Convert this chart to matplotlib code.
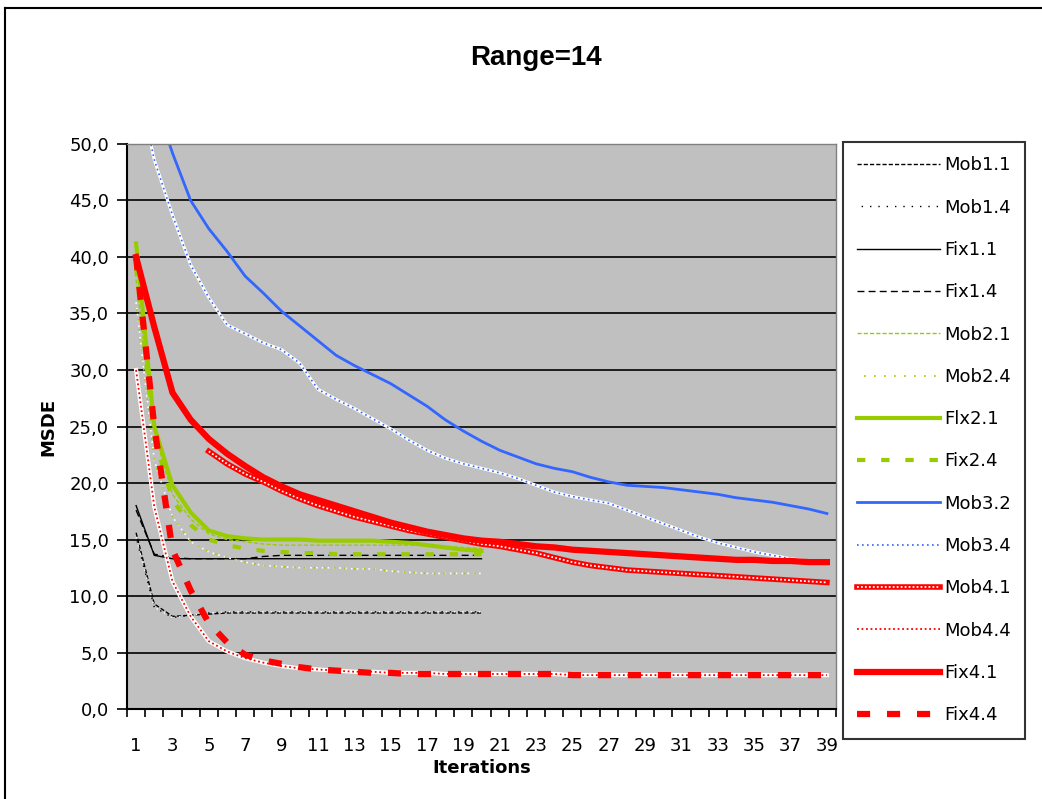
import matplotlib
matplotlib.use("Agg")
import matplotlib.pyplot as plt
from matplotlib.lines import Line2D
from matplotlib.legend_handler import HandlerTuple

plt.rcParams['font.family'] = ['DejaVu Sans']

GREEN = '#99CC00'
BLUE = '#3366FF'
RED = '#FF0000'

iters_short = list(range(1, 21))
iters_long = list(range(1, 40))
iters_mob41 = list(range(5, 40))

mob1_1 = [15.6, 9.3, 8.2, 8.3, 8.4, 8.5, 8.5, 8.5, 8.5, 8.5,
          8.5, 8.5, 8.5, 8.5, 8.5, 8.5, 8.5, 8.5, 8.5, 8.5]
mob1_4 = [15.2, 9.0, 8.1, 8.3, 8.5, 8.6, 8.6, 8.6, 8.6, 8.6,
          8.6, 8.6, 8.6, 8.6, 8.6, 8.6, 8.6, 8.6, 8.6, 8.6]
fix1_1 = [18.0, 13.6, 13.3, 13.3, 13.3, 13.3, 13.3, 13.3, 13.3, 13.3,
          13.3, 13.3, 13.3, 13.3, 13.3, 13.3, 13.3, 13.3, 13.3, 13.3]
fix1_4 = [17.6, 13.7, 13.4, 13.3, 13.3, 13.3, 13.3, 13.5, 13.6, 13.6,
          13.6, 13.6, 13.6, 13.6, 13.6, 13.6, 13.6, 13.6, 13.6, 13.6]
mob2_1 = [38.0, 24.5, 19.0, 16.8, 15.5, 15.0, 14.8, 14.6, 14.5, 14.5,
          14.5, 14.5, 14.5, 14.5, 14.5, 14.5, 14.5, 14.4, 14.3, 14.2]
mob2_4 = [36.0, 22.0, 17.0, 14.8, 13.9, 13.4, 13.0, 12.7, 12.6, 12.5,
          12.5, 12.5, 12.4, 12.4, 12.2, 12.1, 12.0, 12.0, 12.0, 12.0]
fix2_1 = [41.2, 25.0, 19.8, 17.4, 15.8, 15.3, 15.1, 15.0, 15.0, 15.0,
          14.9, 14.9, 14.9, 14.9, 14.8, 14.7, 14.5, 14.3, 14.1, 14.0]
fix2_4 = [39.0, 24.0, 18.5, 16.3, 15.0, 14.5, 14.2, 14.0, 13.9, 13.8,
          13.8, 13.7, 13.7, 13.7, 13.7, 13.7, 13.7, 13.7, 13.7, 13.7]
mob3_2 = [60.0, 54.0, 49.2, 45.0, 42.5, 40.5, 38.3, 36.8, 35.2, 33.9,
          32.6, 31.3, 30.4, 29.6, 28.8, 27.8, 26.8, 25.6, 24.6, 23.7,
          22.9, 22.3, 21.7, 21.3, 21.0, 20.5, 20.1, 19.8, 19.7, 19.6,
          19.4, 19.2, 19.0, 18.7, 18.5, 18.3, 18.0, 17.7, 17.3]
mob3_4 = [56.0, 48.6, 43.7, 39.3, 36.4, 34.0, 33.2, 32.4, 31.8, 30.6,
          28.3, 27.4, 26.6, 25.7, 24.8, 23.8, 22.9, 22.2, 21.7, 21.3,
          20.9, 20.4, 19.8, 19.2, 18.8, 18.5, 18.2, 17.6, 17.0, 16.4,
          15.8, 15.2, 14.7, 14.3, 13.9, 13.6, 13.3, 13.1, 12.9]
mob4_1 = [22.8, 21.7, 20.8, 20.1, 19.3, 18.6, 18.0, 17.5, 17.0, 16.6,
          16.2, 15.8, 15.5, 15.2, 14.9, 14.6, 14.4, 14.1, 13.8, 13.4,
          13.0, 12.7, 12.5, 12.3, 12.2, 12.1, 12.0, 11.9, 11.8, 11.7,
          11.6, 11.5, 11.4, 11.3, 11.2]
mob4_4 = [30.0, 17.9, 11.3, 8.2, 6.0, 5.1, 4.5, 4.1, 3.8, 3.6,
          3.5, 3.4, 3.3, 3.3, 3.2, 3.2, 3.2, 3.1, 3.1, 3.1,
          3.1, 3.1, 3.1, 3.1, 3.0, 3.0, 3.0, 3.0, 3.0, 3.0,
          3.0, 3.0, 3.0, 3.0, 3.0, 3.0, 3.0, 3.0, 3.0]
fix4_1 = [40.0, 33.8, 28.0, 25.6, 23.9, 22.6, 21.5, 20.5, 19.7, 19.0,
          18.5, 18.0, 17.5, 17.0, 16.5, 16.1, 15.7, 15.4, 15.1, 14.9,
          14.8, 14.6, 14.4, 14.3, 14.1, 14.0, 13.9, 13.8, 13.7, 13.6,
          13.5, 13.4, 13.3, 13.2, 13.2, 13.1, 13.1, 13.0, 13.0]
fix4_4 = [40.0, 25.0, 14.1, 10.5, 7.6, 5.9, 4.8, 4.3, 4.0, 3.7,
          3.5, 3.4, 3.3, 3.2, 3.2, 3.1, 3.1, 3.1, 3.1, 3.1,
          3.1, 3.1, 3.1, 3.1, 3.0, 3.0, 3.0, 3.0, 3.0, 3.0,
          3.0, 3.0, 3.0, 3.0, 3.0, 3.0, 3.0, 3.0, 3.0]

y_ticks = [0, 5, 10, 15, 20, 25, 30, 35, 40, 45, 50]
y_labels = ['0,0', '5,0', '10,0', '15,0', '20,0', '25,0', '30,0',
            '35,0', '40,0', '45,0', '50,0']
x_labels = list(range(1, 40, 2))

fig = plt.figure(figsize=(10.42, 7.99), dpi=100)
ax = fig.add_axes([0.1219, 0.1126, 0.6804, 0.7072])
ax.set_facecolor('#C0C0C0')

handles = []

def add(x, y, label, layers):
    """layers: list of dicts of plot kwargs, drawn bottom to top"""
    arts = []
    for kw in layers:
        ax.plot(x, y, solid_joinstyle='miter', **kw)
        arts.append(Line2D([], [], **kw))
    handles.append((tuple(arts), label))

add(iters_short, mob1_1, 'Mob1.1',
    [dict(color='black', lw=1.0, linestyle=(0, (3, 1.5)))])
add(iters_short, mob1_4, 'Mob1.4',
    [dict(color='white', lw=1.0, linestyle=(0, (1, 5))),
     dict(color='black', lw=1.0, linestyle=(3, (1, 5)))])
add(iters_short, fix1_1, 'Fix1.1', [dict(color='black', lw=1.0)])
add(iters_short, fix1_4, 'Fix1.4',
    [dict(color='black', lw=1.0, linestyle=(0, (5, 3)))])
add(iters_short, mob2_1, 'Mob2.1',
    [dict(color=GREEN, lw=1.0, linestyle=(0, (3, 1.5)))])
add(iters_short, mob2_4, 'Mob2.4',
    [dict(color='white', lw=1.2, linestyle=(0, (1, 2.5))),
     dict(color=GREEN, lw=1.2, linestyle=(1.8, (1, 5)))])
add(iters_short, fix2_1, 'Flx2.1', [dict(color=GREEN, lw=3.0)])
add(iters_short, fix2_4, 'Fix2.4',
    [dict(color=GREEN, lw=3.0, linestyle=(0, (2, 3.8)))])
add(iters_long, mob3_2, 'Mob3.2', [dict(color=BLUE, lw=2.0)])
add(iters_long, mob3_4, 'Mob3.4',
    [dict(color='white', lw=2.2),
     dict(color=BLUE, lw=1.2, linestyle=(0, (1, 2)))])
add(iters_mob41, mob4_1, 'Mob4.1',
    [dict(color=RED, lw=4.0),
     dict(color='white', lw=1.3, linestyle=(0, (1, 1.2)))])
add(iters_long, mob4_4, 'Mob4.4',
    [dict(color='white', lw=3.0),
     dict(color=RED, lw=1.3, linestyle=(0, (1, 1.5)))])
add(iters_long, fix4_1, 'Fix4.1', [dict(color=RED, lw=4.5)])
add(iters_long, fix4_4, 'Fix4.4',
    [dict(color=RED, lw=4.5, linestyle=(0, (2.1, 2.7)))])

ax.set_xlim(0.5, 39.5)
ax.set_ylim(0, 50)
ax.set_yticks(y_ticks)
ax.set_yticklabels(y_labels, fontsize=13)
ax.yaxis.grid(True, color='black', lw=1.2)
ax.set_axisbelow(True)

ax.set_xticks([i - 0.5 for i in range(1, 41)], minor=True)
ax.set_xticks(x_labels)
ax.set_xticklabels([str(v) for v in x_labels], fontsize=13)
ax.tick_params(axis='x', which='major', length=0, pad=20)
ax.tick_params(axis='x', which='minor', length=6, width=1.2, direction='out')
ax.tick_params(axis='y', length=7, width=1.2, direction='out', pad=6)

for s in ['top', 'right']:
    ax.spines[s].set_color('#808080')
    ax.spines[s].set_linewidth(1.0)
ax.spines['left'].set_linewidth(1.5)
ax.spines['bottom'].set_linewidth(1.5)

ax.set_xlabel('Iterations', fontsize=13, fontweight='bold', labelpad=3)
ax.set_ylabel('MSDE', fontsize=13, fontweight='bold', labelpad=8)
fig.text(0.514, 0.927, 'Range=14', fontsize=20, fontweight='bold',
         family='Liberation Sans', ha='center', va='center')

leg = fig.legend([h for h, _ in handles], [l for _, l in handles],
                 loc='upper left', bbox_to_anchor=(0.809, 0.8223),
                 fontsize=13, handlelength=4.6, handletextpad=0.2,
                 labelspacing=1.345, borderpad=0.8, borderaxespad=0,
                 fancybox=False, frameon=True, edgecolor='black',
                 handler_map={tuple: HandlerTuple(ndivide=1, pad=0)})
leg.get_frame().set_linewidth(1.5)

# chart border
fig.add_artist(Line2D([0.005, 0.005], [0.0, 0.99], color='black', lw=1.5,
                      transform=fig.transFigure))
fig.add_artist(Line2D([0.005, 1.0], [0.99, 0.99], color='black', lw=1.5,
                      transform=fig.transFigure))

fig.savefig('out.png', dpi=100, facecolor='white')
